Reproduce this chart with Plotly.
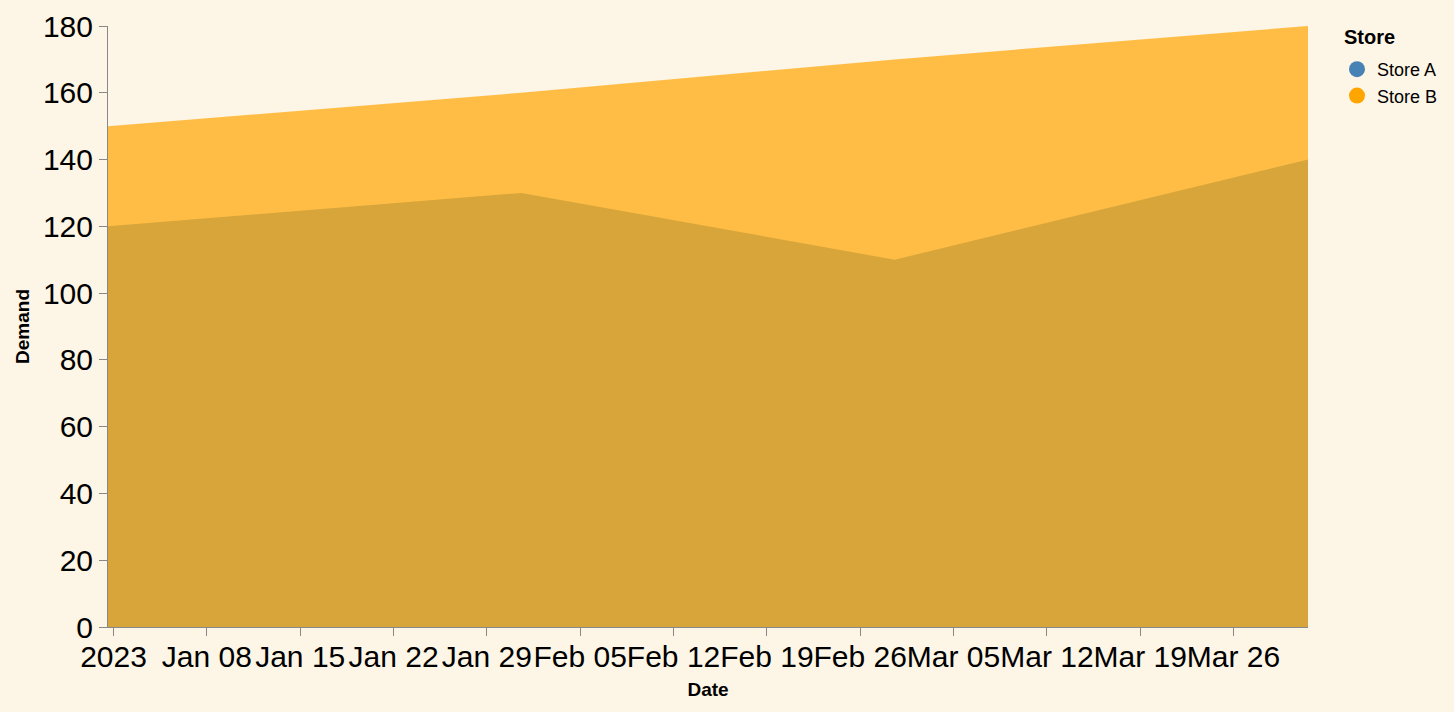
import pandas as pd
import plotly.graph_objects as go

dates = ["2023-01-01", "2023-02-01", "2023-03-01", "2023-04-01"]
store_a = [120, 130, 110, 140]
store_b = [150, 160, 170, 180]
tick_labels = ["2023", "Jan 08", "Jan 15", "Jan 22", "Jan 29", "Feb 05", "Feb 12",
               "Feb 19", "Feb 26", "Mar 05", "Mar 12", "Mar 19", "Mar 26"]
y_ticks = [0, 20, 40, 60, 80, 100, 120, 140, 160, 180]

x = pd.to_datetime(dates)
# ticks sit at local midnight, data at UTC midnight (as in the source renderer)
tick_vals = pd.date_range("2023-01-01", periods=len(tick_labels), freq="7D") + pd.Timedelta(hours=10)

W, H = 1454, 712
ML, MR, MT, MB = 108, 145, 26, 85
PW, PH = W - ML - MR, H - MT - MB

fig = go.Figure()
fig.add_trace(go.Scatter(x=x, y=store_a, mode="lines", line=dict(width=0),
                         fill="tozeroy", fillcolor="rgba(70,130,180,0.7)",
                         name="Store A", showlegend=False, hoverinfo="x+y"))
fig.add_trace(go.Scatter(x=x, y=store_b, mode="lines", line=dict(width=0),
                         fill="tozeroy", fillcolor="rgba(255,165,0,0.7)",
                         name="Store B", showlegend=False, hoverinfo="x+y"))
for name, col in [("Store A", "#4682b4"), ("Store B", "#ffa500")]:
    fig.add_trace(go.Scatter(x=[None], y=[None], mode="markers",
                             marker=dict(symbol="circle", size=19, color=col),
                             name=name, showlegend=True))

fig.add_annotation(text="<b>Store</b>", xref="paper", yref="paper",
                   x=(1343 - ML) / PW, y=1 - (37 - MT) / PH,
                   xanchor="left", yanchor="middle", showarrow=False,
                   font=dict(size=20, color="#000"))

fig.update_layout(
    width=W, height=H,
    paper_bgcolor="#fdf5e6", plot_bgcolor="#fdf5e6",
    margin=dict(l=ML, r=MR, t=MT, b=MB, pad=0),
    font=dict(family="Liberation Sans, Arial, sans-serif", color="#000"),
    showlegend=True,
    legend=dict(x=(1337 - ML) / PW, xanchor="left", y=1 - (51 - MT) / PH, yanchor="top",
                font=dict(size=18), bgcolor="rgba(0,0,0,0)",
                itemsizing="trace", tracegroupgap=0),
    xaxis=dict(range=[x[0], x[-1]], tickmode="array", tickvals=tick_vals,
               ticktext=tick_labels, tickfont=dict(size=30), tickangle=0,
               ticklabelstandoff=-5,
               showgrid=False, zeroline=False, showline=True, linecolor="#888",
               linewidth=1, ticks="outside", ticklen=8, tickcolor="#888", tickwidth=1,
               automargin=False,
               title=dict(text="<b>Date</b>", font=dict(size=19), standoff=10)),
    yaxis=dict(range=[0, 180], tickmode="array", tickvals=y_ticks,
               tickfont=dict(size=30), showgrid=False, zeroline=False,
               showline=True, linecolor="#888", linewidth=1,
               ticks="outside", ticklen=8, tickcolor="#888", tickwidth=1,
               automargin=False,
               title=dict(text="<b>Demand</b>", font=dict(size=19), standoff=8)),
)

fig.write_html("out.html", config={"displayModeBar": False},
               post_script="document.body.style.margin='0';"
                           "document.body.style.background='#fdf5e6';")
